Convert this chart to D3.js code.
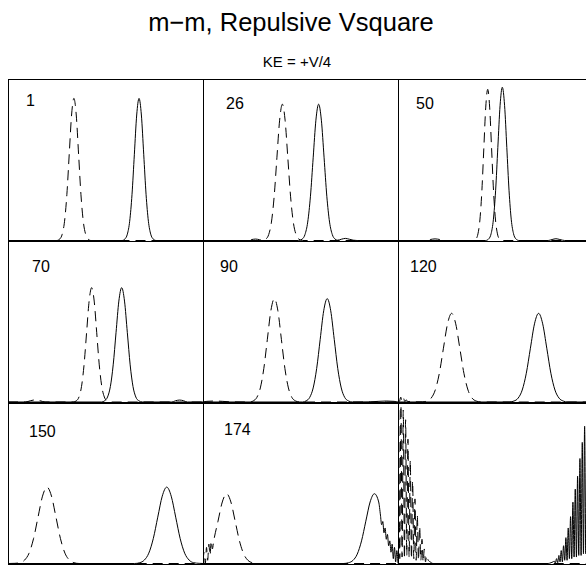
<!DOCTYPE html>
<html>
<head>
<meta charset="utf-8">
<script src="https://cdn.jsdelivr.net/npm/d3@7"></script>
<style>
  html, body { margin: 0; padding: 0; background: #fff; }
  svg { display: block; }
  text { font-family: "Liberation Sans", Arial, Helvetica, sans-serif; fill: #000; }
</style>
</head>
<body>
<svg id="chart" width="586" height="565"></svg>
<script>
// ---------------- data ----------------
const mainTitle = "m\u2212m, Repulsive Vsquare";
const subTitle = "KE = +V/4";
const panelLabels = ["1", "26", "50", "70", "90", "120", "150", "174", ""];

// Dashed curve (left-moving packet), points [position, density]
const dashed1 = [[0,0],[25,0],[26.6,0.010],[27.8,0.039],[29.0,0.119],[30.2,0.286],[31.4,0.534],[32.6,0.777],[33.8,0.880],[35.0,0.777],[36.2,0.534],[37.4,0.286],[38.6,0.119],[39.8,0.039],[41.0,0.010],[42.5,0],[100,0]];
const solid1  = [[0,0],[58.5,0],[60.0,0.010],[61.2,0.039],[62.4,0.119],[63.6,0.286],[64.8,0.534],[66.0,0.777],[67.2,0.880],[68.4,0.777],[69.6,0.534],[70.8,0.286],[72.0,0.119],[73.2,0.039],[74.4,0.010],[76,0],[100,0]];

const dashed26 = [[0,0],[22,0],[25,0.006],[27,0.009],[29,0.005],[31,0.001],[32.3,0.009],[33.7,0.037],[35.1,0.114],[36.5,0.274],[37.9,0.512],[39.3,0.745],[40.7,0.844],[42.1,0.745],[43.5,0.512],[44.9,0.274],[46.3,0.114],[47.7,0.037],[49.1,0.009],[51,0],[100,0]];
const solid26  = [[0,0],[49,0],[50.9,0.009],[52.3,0.037],[53.7,0.114],[55.1,0.274],[56.5,0.512],[57.9,0.745],[59.3,0.844],[60.7,0.745],[62.1,0.512],[63.5,0.274],[64.9,0.114],[66.3,0.037],[67.7,0.009],[69,0.002],[71,0.008],[73,0.013],[75,0.008],[77,0.002],[79,0],[100,0]];

const dashed50 = [[0,0],[14,0],[16.5,0.006],[19,0.010],[21.5,0.006],[24,0],[38.5,0],[40,0.010],[41,0.041],[42,0.127],[43,0.304],[44,0.568],[45,0.826],[46,0.936],[47,0.826],[48,0.568],[49,0.304],[50,0.127],[51,0.041],[52,0.010],[53.5,0],[100,0]];
const solid50  = [[0,0],[45,0],[46.6,0.011],[47.75,0.042],[48.9,0.128],[50.05,0.308],[51.2,0.576],[52.35,0.837],[53.5,0.949],[54.65,0.837],[55.8,0.576],[56.95,0.308],[58.1,0.128],[59.25,0.042],[60.4,0.011],[62,0],[77,0],[79,0.006],[81,0.011],[83,0.006],[85.5,0],[100,0]];

const dashed70 = [[0,0],[9,0],[11.5,0.008],[14,0.013],[16.5,0.008],[19,0],[33.5,0],[35.1,0.008],[36.4,0.031],[37.7,0.096],[39.0,0.230],[40.3,0.429],[41.6,0.625],[42.9,0.708],[44.2,0.625],[45.5,0.429],[46.8,0.230],[48.1,0.096],[49.4,0.031],[50.7,0.008],[52.5,0],[100,0]];
const solid70  = [[0,0],[48,0],[49.6,0.008],[51.05,0.031],[52.5,0.096],[53.95,0.230],[55.4,0.429],[56.85,0.625],[58.3,0.708],[59.75,0.625],[61.2,0.429],[62.65,0.230],[64.1,0.096],[65.55,0.031],[67.0,0.008],[69,0],[84,0],[86,0.008],[88,0.012],[90,0.008],[92,0],[100,0]];

const dashed90 = [[0,0],[2,0.004],[6,0.006],[10,0.004],[14,0.001],[24,0],[25.8,0.007],[27.6,0.028],[29.4,0.087],[31.2,0.208],[33.0,0.388],[34.8,0.565],[36.6,0.640],[38.4,0.565],[40.2,0.388],[42.0,0.208],[43.8,0.087],[45.6,0.028],[47.4,0.007],[49.5,0],[100,0]];
const solid90  = [[0,0],[51,0],[52.9,0.007],[54.7,0.028],[56.5,0.087],[58.3,0.208],[60.1,0.388],[61.9,0.565],[63.7,0.640],[65.5,0.565],[67.3,0.388],[69.1,0.208],[70.9,0.087],[72.7,0.028],[74.5,0.007],[76.5,0],[86,0.001],[90,0.004],[94,0.006],[98,0.004],[100,0]];

const dashed120 = [[0,0.02],[0.7,0.004],[1.4,0.03],[2.1,0.004],[2.8,0.024],[3.5,0.003],[4.2,0.014],[5,0.002],[6.5,0.004],[8.5,0.001],[12.5,0.001],[14.9,0.006],[17.0,0.024],[19.1,0.074],[21.2,0.178],[23.3,0.333],[25.4,0.484],[27.5,0.549],[29.6,0.484],[31.7,0.333],[33.8,0.178],[35.9,0.074],[38.0,0.024],[40.1,0.006],[42.5,0],[100,0]];
const solid120  = [[0,0],[57,0],[59.5,0.006],[61.6,0.024],[63.7,0.074],[65.8,0.178],[67.9,0.333],[70.0,0.484],[72.1,0.549],[74.2,0.484],[76.3,0.333],[78.4,0.178],[80.5,0.074],[82.6,0.024],[84.7,0.006],[87,0],[100,0]];

const dashed150 = [[0,0],[3.5,0.001],[6.2,0.005],[8.5,0.021],[10.8,0.064],[13.1,0.154],[15.4,0.287],[17.7,0.417],[20.0,0.473],[22.3,0.417],[24.6,0.287],[26.9,0.154],[29.2,0.064],[31.5,0.021],[33.8,0.005],[36.5,0],[100,0]];
const solid150  = [[0,0],[65,0],[67.6,0.005],[69.9,0.021],[72.2,0.064],[74.5,0.154],[76.8,0.287],[79.1,0.417],[81.4,0.473],[83.7,0.417],[86.0,0.287],[88.3,0.154],[90.6,0.064],[92.9,0.021],[95.2,0.005],[98,0.001],[100,0]];

const dashed174 = [[0,0.01],[0.6,0.07],[1.2,0.0],[1.8,0.10],[2.4,0.02],[3.0,0.12],[3.6,0.05],[4.2,0.14],[4.8,0.09],[5.5,0.14],[7.7,0.262],[9.9,0.381],[12.1,0.432],[14.3,0.381],[16.5,0.262],[18.7,0.140],[20.9,0.058],[23.1,0.019],[25.3,0.005],[28,0],[100,0]];
const solid174  = [[0,0],[72,0],[74.7,0.005],[76.9,0.019],[79.1,0.058],[81.3,0.140],[83.5,0.262],[85.7,0.381],[87.9,0.432],[90.1,0.381],[91,0.30],[91.6,0.24],[92.2,0.26],[92.8,0.19],[93.4,0.22],[94,0.15],[94.6,0.18],[95.2,0.11],[95.8,0.14],[96.4,0.07],[97,0.12],[97.6,0.03],[98.2,0.10],[98.8,0.01],[99.4,0.08],[100,0.0]];

const dashedLast = [[0,0.05],[0.3,0.995],[0.9,0.03],[1.5,0.98],[2.1,0.04],[2.7,0.95],[3.3,0.03],[3.9,0.89],[4.5,0.05],[5.1,0.77],[5.7,0.04],[6.3,0.64],[6.9,0.03],[7.5,0.51],[8.1,0.03],[8.7,0.40],[9.3,0.02],[9.9,0.30],[10.5,0.02],[11.1,0.23],[11.7,0.02],[12.3,0.15],[12.9,0.01],[13.5,0.09],[14.1,0.01],[14.7,0.05],[15.5,0.02],[16.5,0.01],[18,0],[100,0]];
const solidLast  = [[0,0],[77,0],[78.5,0.005],[79.5,0.01],[80.1,0.015],[80.7,0.003],[81.3,0.03],[81.9,0.005],[82.5,0.05],[83.1,0.01],[83.7,0.08],[84.3,0.01],[84.9,0.11],[85.5,0.02],[86.1,0.16],[86.7,0.02],[87.3,0.22],[87.9,0.03],[88.5,0.29],[89.1,0.03],[89.7,0.38],[90.3,0.04],[90.9,0.46],[91.5,0.04],[92.1,0.54],[92.7,0.05],[93.3,0.65],[93.9,0.05],[94.5,0.75],[95.1,0.06],[95.7,0.85],[96.3,0.06],[96.9,0.92],[97.5,0.07],[98.1,0.97],[98.7,0.07],[99.3,0.99],[100,0.1]];

const dashedSeries = [dashed1, dashed26, dashed50, dashed70, dashed90, dashed120, dashed150, dashed174, dashedLast];
const solidSeries  = [solid1, solid26, solid50, solid70, solid90, solid120, solid150, solid174, solidLast];

const xDomain = [0, 100];
const yDomain = [0, 1];

// ---------------- layout ----------------
const W = 586, H = 565;
const gridLeft = 8, gridTop = 79, cellW = 195, cellH = 161.5;
const labelOffsets = [[18,27],[23,30],[18,30],[24,31],[17,31],[12,31],[21,35],[21,33],[0,0]];

const svg = d3.select("#chart");
svg.append("rect").attr("width", W).attr("height", H).attr("fill", "#fff");

svg.append("text").attr("x", 291).attr("y", 31).attr("text-anchor", "middle")
  .style("font-size", "25.5px").text(mainTitle);
svg.append("text").attr("x", 297).attr("y", 67).attr("text-anchor", "middle")
  .style("font-size", "15px").text(subTitle);

const x = d3.scaleLinear().domain(xDomain).range([0, cellW]);
const y = d3.scaleLinear().domain(yDomain).range([cellH, 0]);
const line = d3.line().x(d => x(d[0])).y(d => y(d[1])).curve(d3.curveMonotoneX);

panelLabels.forEach((lab, i) => {
  const col = i % 3, row = Math.floor(i / 3);
  const x0 = gridLeft + col * cellW, y0 = gridTop + row * cellH;
  const g = svg.append("g").attr("transform", `translate(${x0},${y0})`);
  const cid = "clip" + i;
  g.append("clipPath").attr("id", cid).append("rect")
    .attr("x", 0).attr("y", -1).attr("width", cellW).attr("height", cellH + 1.5);
  const pg = g.append("g").attr("clip-path", `url(#${cid})`);
  pg.append("path").attr("d", line(solidSeries[i]))
    .attr("fill", "none").attr("stroke", "#000").attr("stroke-width", 1);
  pg.append("path").attr("d", line(dashedSeries[i]))
    .attr("fill", "none").attr("stroke", "#000").attr("stroke-width", 1)
    .attr("stroke-dasharray", "10,6");
  const top = Math.round(y0) - y0 + 0.5;
  g.append("rect").attr("x", 0.5).attr("y", top).attr("width", cellW).attr("height", Math.round(cellH))
    .attr("fill", "none").attr("stroke", "#000").attr("stroke-width", 1);
  if (lab) {
    g.append("text").attr("x", labelOffsets[i][0]).attr("y", labelOffsets[i][1])
      .style("font-size", "16px").text(lab);
  }
});
</script>
</body>
</html>
